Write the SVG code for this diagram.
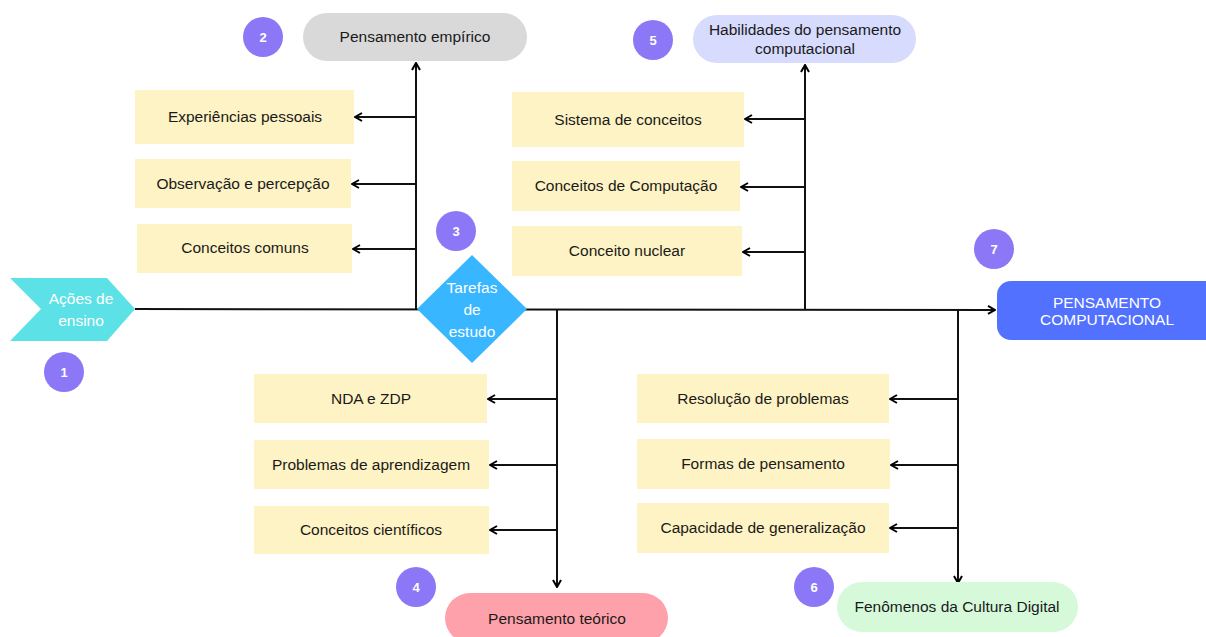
<svg xmlns="http://www.w3.org/2000/svg" width="1206" height="637" viewBox="0 0 1206 637">
<defs>
<marker id="arr" viewBox="0 0 10 10" refX="9" refY="5" markerWidth="10" markerHeight="10" markerUnits="userSpaceOnUse" orient="auto">
<path d="M2,1 L9,5 L2,9" fill="none" stroke="#000" stroke-width="2"/>
</marker>
<style>
.ln{stroke:#111;stroke-width:2;fill:none}
.box{fill:#fef3c4}
.t{font-family:"Liberation Sans",Arial,sans-serif;font-size:15.5px;fill:#1a1a1a;text-anchor:middle}
.w{font-family:"Liberation Sans",Arial,sans-serif;font-size:15.5px;fill:#ffffff;text-anchor:middle}
.num{fill:#8c78f7}
.nt{font-family:"Liberation Sans",Arial,sans-serif;font-size:13px;font-weight:bold;fill:#fff;text-anchor:middle}
</style>
</defs>
<rect width="1206" height="637" fill="#ffffff"/>

<g id="connectors">
<line class="ln" x1="135" y1="309" x2="995" y2="310" marker-end="url(#arr)"/>
<line class="ln" x1="416" y1="309" x2="416" y2="63" marker-end="url(#arr)"/>
<line class="ln" x1="416" y1="117" x2="355" y2="117" marker-end="url(#arr)"/>
<line class="ln" x1="416" y1="184" x2="352" y2="184" marker-end="url(#arr)"/>
<line class="ln" x1="416" y1="249" x2="353" y2="249" marker-end="url(#arr)"/>
<line class="ln" x1="805" y1="310" x2="805" y2="65" marker-end="url(#arr)"/>
<line class="ln" x1="805" y1="119" x2="745" y2="119" marker-end="url(#arr)"/>
<line class="ln" x1="805" y1="187" x2="741" y2="187" marker-end="url(#arr)"/>
<line class="ln" x1="805" y1="252" x2="743" y2="252" marker-end="url(#arr)"/>
<line class="ln" x1="557" y1="310" x2="557" y2="587" marker-end="url(#arr)"/>
<line class="ln" x1="557" y1="399" x2="488" y2="399" marker-end="url(#arr)"/>
<line class="ln" x1="557" y1="465" x2="490" y2="465" marker-end="url(#arr)"/>
<line class="ln" x1="557" y1="530" x2="490" y2="530" marker-end="url(#arr)"/>
<line class="ln" x1="958" y1="310" x2="958" y2="583" marker-end="url(#arr)"/>
<line class="ln" x1="958" y1="399" x2="890" y2="399" marker-end="url(#arr)"/>
<line class="ln" x1="958" y1="465" x2="891" y2="465" marker-end="url(#arr)"/>
<line class="ln" x1="958" y1="528" x2="890" y2="528" marker-end="url(#arr)"/>
</g>

<g id="acoes">
<polygon points="10,278 107,278 135,309 107,341 10,341 41,309" fill="#5ce1e6"/>
<text class="w" x="81" y="304">Ações de</text>
<text class="w" x="81" y="326">ensino</text>
</g>
<g id="n1"><circle class="num" cx="64" cy="372" r="20"/><text class="nt" x="64" y="377">1</text></g>

<g id="tarefas">
<polygon points="472,255 527,309 472,363 417,309" fill="#38b6ff"/>
<text class="w" x="472" y="293">Tarefas</text>
<text class="w" x="472" y="315">de</text>
<text class="w" x="472" y="337">estudo</text>
</g>
<g id="n3"><circle class="num" cx="456" cy="231" r="20"/><text class="nt" x="456" y="236">3</text></g>

<g id="empirico">
<rect x="303" y="13" width="224" height="48" rx="24" fill="#d9d9d9"/>
<text class="t" x="415" y="42">Pensamento empírico</text>
</g>
<g id="n2"><circle class="num" cx="263" cy="37" r="20"/><text class="nt" x="263" y="42">2</text></g>

<g id="exp"><rect class="box" x="135" y="90" width="219" height="54"/><text class="t" x="245" y="122">Experiências pessoais</text></g>
<g id="obs"><rect class="box" x="135" y="159" width="216" height="49"/><text class="t" x="243" y="189">Observação e percepção</text></g>
<g id="comuns"><rect class="box" x="137" y="224" width="215" height="49"/><text class="t" x="245" y="253">Conceitos comuns</text></g>

<g id="habilidades">
<rect x="693" y="15" width="223" height="48" rx="24" fill="#d7dbfd"/>
<text class="t" x="805" y="35">Habilidades do pensamento</text>
<text class="t" x="805" y="54">computacional</text>
</g>
<g id="n5"><circle class="num" cx="653" cy="40" r="20"/><text class="nt" x="653" y="45">5</text></g>

<g id="sistema"><rect class="box" x="512" y="92" width="232" height="55"/><text class="t" x="628" y="125">Sistema de conceitos</text></g>
<g id="computacao"><rect class="box" x="512" y="161" width="228" height="50"/><text class="t" x="626" y="191">Conceitos de Computação</text></g>
<g id="nuclear"><rect class="box" x="512" y="226" width="230" height="50"/><text class="t" x="627" y="256">Conceito nuclear</text></g>

<g id="pc">
<rect x="997" y="281" width="222" height="59" rx="14" fill="#5271ff"/>
<text class="w" x="1107" y="308">PENSAMENTO</text>
<text class="w" x="1107" y="325">COMPUTACIONAL</text>
</g>
<g id="n7"><circle class="num" cx="994" cy="249" r="20"/><text class="nt" x="994" y="254">7</text></g>

<g id="nda"><rect class="box" x="254" y="374" width="233" height="49"/><text class="t" x="371" y="404">NDA e ZDP</text></g>
<g id="problemas"><rect class="box" x="254" y="440" width="235" height="49"/><text class="t" x="371" y="470">Problemas de aprendizagem</text></g>
<g id="cientificos"><rect class="box" x="254" y="506" width="235" height="48"/><text class="t" x="371" y="535">Conceitos científicos</text></g>

<g id="teorico">
<rect x="445" y="593" width="223" height="50" rx="25" fill="#ffa1aa"/>
<text class="t" x="557" y="624">Pensamento teórico</text>
</g>
<g id="n4"><circle class="num" cx="416" cy="587" r="20"/><text class="nt" x="416" y="592">4</text></g>

<g id="resolucao"><rect class="box" x="637" y="374" width="252" height="49"/><text class="t" x="763" y="404">Resolução de problemas</text></g>
<g id="formas"><rect class="box" x="637" y="439" width="253" height="50"/><text class="t" x="763" y="469">Formas de pensamento</text></g>
<g id="capacidade"><rect class="box" x="637" y="503" width="252" height="50"/><text class="t" x="763" y="533">Capacidade de generalização</text></g>

<g id="fenomenos">
<rect x="837" y="582" width="241" height="50" rx="25" fill="#d6f9da"/>
<text class="t" x="957" y="612">Fenômenos da Cultura Digital</text>
</g>
<g id="n6"><circle class="num" cx="814" cy="587" r="20"/><text class="nt" x="814" y="592">6</text></g>
</svg>
